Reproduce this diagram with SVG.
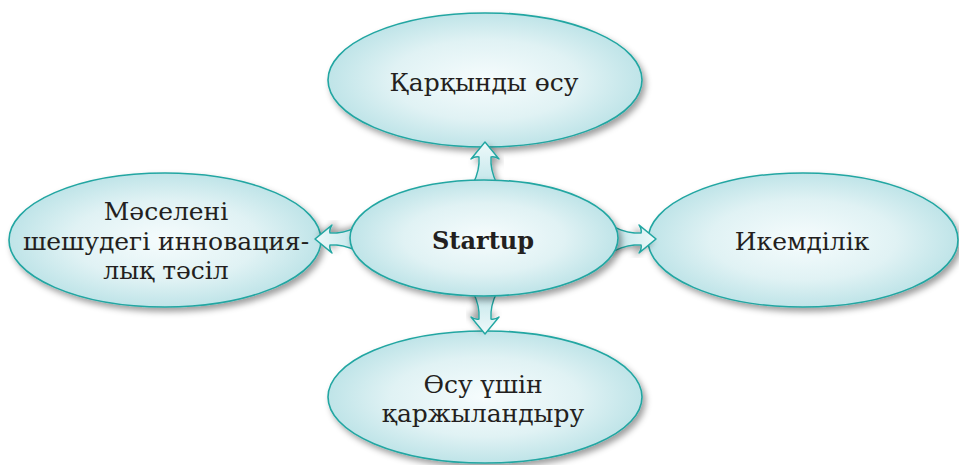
<svg xmlns="http://www.w3.org/2000/svg" width="959" height="465" viewBox="0 0 959 465">
<defs>
<radialGradient id="g" cx="50%" cy="50%" r="50%">
<stop offset="0" stop-color="#f6fcfd"/>
<stop offset="0.6" stop-color="#e0f2f4"/>
<stop offset="1" stop-color="#bfe4e8"/>
</radialGradient>
<linearGradient id="ag" x1="0" y1="0" x2="0" y2="1">
<stop offset="0" stop-color="#eef9fa"/>
<stop offset="1" stop-color="#c2e6ea"/>
</linearGradient>
<filter id="sh" x="-10%" y="-10%" width="125%" height="130%">
<feDropShadow dx="3" dy="4" stdDeviation="3" flood-color="#000" flood-opacity="0.38"/>
</filter>
<path id="arr" d="M0,0 L14,17 Q9.5,14 6,15 Q5,28 12,42 L-12,42 Q-5,28 -6,15 Q-9.5,14 -14,17 Z"/>
</defs>
<style>
.e{fill:url(#g);stroke:#22a6a2;stroke-width:1.6;filter:url(#sh)}
.a{fill:url(#ag);stroke:#22a6a2;stroke-width:1.4;stroke-linejoin:round;filter:url(#sh)}
.t{font-family:"DejaVu Serif","Liberation Serif",serif;font-size:25px;fill:#231f20;text-anchor:middle}
.b{font-weight:bold;font-size:24px}
</style>
<rect width="959" height="465" fill="#fff"/>
<g id="n-top"><ellipse class="e" cx="485" cy="80" rx="157" ry="67"/><text class="t" x="484" y="91">Қарқынды өсу</text></g>
<g id="n-left"><ellipse class="e" cx="165" cy="240" rx="156" ry="67"/><text class="t" x="166" y="220">Мәселені</text><text class="t" x="166" y="250">шешудегі инновация-</text><text class="t" x="166" y="279">лық тәсіл</text></g>
<g id="n-right"><ellipse class="e" cx="803" cy="240" rx="155" ry="67"/><text class="t" x="802" y="250">Икемділік</text></g>
<g id="n-bottom"><ellipse class="e" cx="485" cy="397" rx="157" ry="66"/><text class="t" x="483" y="393">Өсу үшін</text><text class="t" x="483" y="422">қаржыландыру</text></g>
<g id="connectors">
<use href="#arr" class="a" transform="translate(485,142)"/>
<use href="#arr" class="a" transform="translate(485,334) rotate(180)"/>
<use href="#arr" class="a" transform="translate(315,239) rotate(-90)"/>
<use href="#arr" class="a" transform="translate(656,239) rotate(90)"/>
</g>
<g id="n-center"><ellipse class="e" cx="484" cy="238" rx="134" ry="58"/><text class="t b" x="483" y="249">Startup</text></g>
</svg>
